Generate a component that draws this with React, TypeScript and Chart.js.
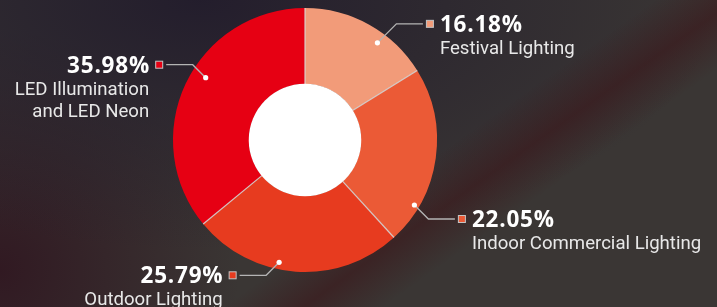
import React, { useEffect, useRef } from "react";
import { Chart, registerables } from "chart.js";

Chart.register(...registerables);

// ---- data ----
const categories = [
  "Festival Lighting",
  "Indoor Commercial Lighting",
  "Outdoor Lighting",
  "LED Illumination\nand LED Neon",
];
const shares = [16.18, 22.05, 25.79, 35.98];
const shareLabels = ["16.18%", "22.05%", "25.79%", "35.98%"];
const sliceColors = ["#F29B79", "#EB5A36", "#E73B1F", "#E60013"];

// ---- callout layout (fraction along slice, radius factor, elbow offset, side) ----
const calloutLayout = [
  { frac: 0.63, rf: 0.918, ex: 19, ey: -19, side: 1 },
  { frac: 0.787, rf: 0.964, ex: 14, ey: 14, side: 1 },
  { frac: 0.585, rf: 0.947, ex: -13, ey: 13, side: -1 },
  { frac: 0.553, rf: 0.888, ex: -13, ey: -13, side: -1 },
];

const calloutPlugin = {
  id: "callouts",
  afterDatasetsDraw(chart: any) {
    const ctx = chart.ctx as CanvasRenderingContext2D;
    const meta = chart.getDatasetMeta(0);
    ctx.save();
    // separators
    meta.data.forEach((arc: any) => {
      const p = arc.getProps(["x", "y", "startAngle", "innerRadius", "outerRadius"], true);
      ctx.beginPath();
      ctx.moveTo(p.x + Math.cos(p.startAngle) * p.innerRadius, p.y + Math.sin(p.startAngle) * p.innerRadius);
      ctx.lineTo(p.x + Math.cos(p.startAngle) * p.outerRadius, p.y + Math.sin(p.startAngle) * p.outerRadius);
      ctx.strokeStyle = "rgba(215,215,215,0.9)";
      ctx.lineWidth = 1.2;
      ctx.stroke();
    });
    // white hole
    const a0 = meta.data[0].getProps(["x", "y", "innerRadius"], true);
    ctx.beginPath();
    ctx.arc(a0.x, a0.y, a0.innerRadius + 0.3, 0, Math.PI * 2);
    ctx.fillStyle = "#ffffff";
    ctx.fill();

    // callouts
    meta.data.forEach((arc: any, i: number) => {
      const L = calloutLayout[i];
      const p = arc.getProps(["x", "y", "startAngle", "endAngle", "outerRadius"], true);
      const th = p.startAngle + L.frac * (p.endAngle - p.startAngle);
      const r = L.rf * p.outerRadius;
      const dx = p.x + Math.cos(th) * r;
      const dy = p.y + Math.sin(th) * r;
      const elx = dx + L.ex;
      const ely = dy + L.ey;
      const endx = elx + L.side * 26.5;
      ctx.beginPath();
      ctx.moveTo(dx, dy);
      ctx.lineTo(elx, ely);
      ctx.lineTo(endx, ely);
      ctx.strokeStyle = "#b4b4b4";
      ctx.lineWidth = 1.3;
      ctx.stroke();
      ctx.beginPath();
      ctx.arc(dx, dy, 2.6, 0, Math.PI * 2);
      ctx.fillStyle = "#ffffff";
      ctx.fill();
      // square marker
      const sq = 7;
      const sqx = L.side > 0 ? endx + 3.5 : endx - 3.5 - sq;
      ctx.fillStyle = sliceColors[i];
      ctx.fillRect(sqx, ely - sq / 2, sq, sq);
      ctx.strokeStyle = "#c4c4c4";
      ctx.lineWidth = 1;
      ctx.strokeRect(sqx, ely - sq / 2, sq, sq);
      // text
      const tx = L.side > 0 ? endx + 17 : endx - 17;
      ctx.textAlign = L.side > 0 ? "left" : "right";
      ctx.textBaseline = "alphabetic";
      const spacing = 0.8;
      (ctx as any).letterSpacing = spacing + "px";
      ctx.font = "bold 22.5px 'Open Sans'";
      ctx.fillStyle = "#ffffff";
      ctx.fillText(shareLabels[i], L.side > 0 ? tx : tx + spacing, ely + 8);
      (ctx as any).letterSpacing = "0px";
      ctx.font = "18.6px Roboto";
      ctx.fillStyle = "#e8e8e8";
      const lines = categories[i].split("\n");
      lines.forEach((ln, k) => {
        ctx.fillText(ln, tx, ely + 8 + 22 * (k + 1));
      });
    });
    ctx.restore();
  },
};

export default function App() {
  const ref = useRef<HTMLCanvasElement | null>(null);
  useEffect(() => {
    if (!ref.current) return;
    const chart = new Chart(ref.current, {
      type: "doughnut",
      data: {
        labels: categories,
        datasets: [
          {
            data: shares,
            backgroundColor: sliceColors,
            borderWidth: 0,
            hoverOffset: 0,
          },
        ],
      },
      options: {
        animation: false,
        responsive: true,
        maintainAspectRatio: false,
        cutout: "42.4%",
        layout: { padding: { left: 173, right: 280, top: 8, bottom: 35 } },
        plugins: { legend: { display: false }, tooltip: { enabled: false } },
        events: [],
      },
      plugins: [calloutPlugin],
    });
    return () => chart.destroy();
  }, []);
  return (
    <div
      style={{
        position: "fixed",
        left: 0,
        top: 0,
        width: 717,
        height: 307,
        overflow: "hidden",
        background:
          "linear-gradient(144.6deg, rgba(0,0,0,0) 57%, rgba(60,20,24,0.55) 64%, rgba(0,0,0,0) 71%)," +
          "radial-gradient(ellipse 520px 250px at 200px 0px, rgba(34,28,44,0.95), rgba(34,28,44,0))," +
          "radial-gradient(ellipse 240px 240px at 0px 270px, rgba(48,22,32,0.9), rgba(48,22,32,0))," +
          "#3a3634",
      }}
    >
      <canvas ref={ref} />
    </div>
  );
}
